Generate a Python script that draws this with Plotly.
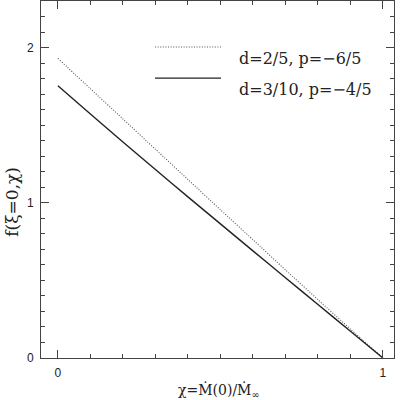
import plotly.graph_objects as go

chi = [0.0, 0.1, 0.2, 0.3, 0.4, 0.5, 0.6, 0.7, 0.8, 0.9, 1.0]
f_dotted = [1.93, 1.735, 1.54, 1.345, 1.15, 0.955, 0.762, 0.568, 0.376, 0.186, 0.0]
f_solid = [1.754, 1.572, 1.392, 1.214, 1.038, 0.864, 0.690, 0.517, 0.345, 0.172, 0.0]
names = ["d=2/5, p=\u22126/5", "d=3/10, p=\u22124/5"]

_INK = "#222"
_AXIS = "#444"
_TXT_FONT = "DejaVu Serif"
_TICK_FONT = "Liberation Sans"
_DOT = "1px,1.6px"

fig = go.Figure()
fig.add_trace(go.Scatter(
    x=chi, y=f_dotted, mode="lines", name=names[0], line_shape="spline",
    line={"color": "#555", "width": 1.1, "dash": _DOT, "smoothing": 0.6},
))
fig.add_trace(go.Scatter(
    x=chi, y=f_solid, mode="lines", name=names[1], line_shape="spline",
    line={"color": _INK, "width": 1.4, "smoothing": 0.6},
))

# hand-drawn legend: long line samples, as in the original
legend_rows = [(0.871, _DOT, "#555", 1.1), (0.784, "solid", _INK, 1.4)]
for (yp, dash, col, w), label in zip(legend_rows, names):
    fig.add_shape(type="line", xref="paper", yref="paper",
                  x0=0.323, x1=0.510, y0=yp, y1=yp,
                  line={"color": col, "width": w, "dash": dash})
    fig.add_annotation(xref="paper", yref="paper", x=0.555, y=yp,
                       text=label, showarrow=False, xanchor="left",
                       font={"family": _TXT_FONT, "size": 16, "color": _INK})

fig.add_annotation(xref="paper", yref="paper", x=-0.083, y=0.437,
                   text="f(\u03be=0,\u03c7)", textangle=-90, showarrow=False,
                   xanchor="center", yanchor="middle",
                   font={"family": _TXT_FONT, "size": 17, "color": _INK})
fig.add_annotation(xref="paper", yref="paper", x=0.505, y=-0.09,
                   text="\u03c7=\u1e40(0)/\u1e40<sub>\u221e</sub>", showarrow=False,
                   xanchor="center", yanchor="middle",
                   font={"family": _TXT_FONT, "size": 14, "color": _INK})

axis_common = dict(
    showline=True, linecolor=_AXIS, linewidth=1, mirror="ticks",
    ticks="inside", ticklen=8, tickcolor=_AXIS, tickwidth=1,
    showgrid=False, zeroline=False, automargin=False,
    tickmode="linear", tick0=0, dtick=1,
    tickfont={"family": _TICK_FONT, "size": 12, "color": _INK},
    ticklabelstandoff=4,
)
minor = {"tickmode": "linear", "dtick": 0.1, "tick0": 0, "ticks": "inside",
         "ticklen": 4, "tickwidth": 1, "tickcolor": _AXIS, "showgrid": False}
fig.update_xaxes(range=[-0.052, 1.034], minor=minor, **axis_common)
fig.update_yaxes(range=[0, 2.3], minor=minor, **axis_common)
fig.update_layout(
    width=400, height=400, showlegend=False,
    paper_bgcolor="white", plot_bgcolor="white",
    margin={"l": 41, "r": 6, "t": 1, "b": 42, "autoexpand": False},
)
fig.write_html("out.html", config={"displayModeBar": False},
               post_script="document.body.style.margin='0';")
